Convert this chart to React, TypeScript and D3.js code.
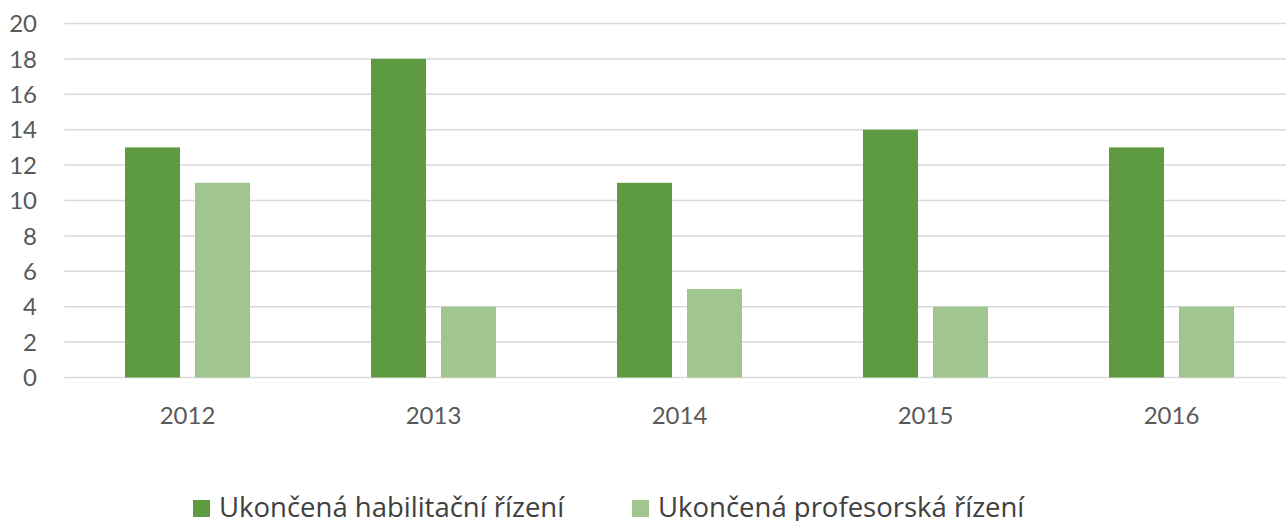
import React from "react";
import * as d3 from "d3";

const width = 1286;
const height = 521;
const margin = { left: 64.5, right: -8.5, top: 23.5, bottom: 143.5 }; // plot runs past the right edge

const years = ["2012", "2013", "2014", "2015", "2016"];
const habilitace = [13, 18, 11, 14, 13];
const profesor = [11, 4, 5, 4, 4];
const seriesNames = ["Ukončená habilitační řízení", "Ukončená profesorská řízení"];
const seriesColors = ["#5e9a3f", "#a1c58e"];
const yTicks = [0, 2, 4, 6, 8, 10, 12, 14, 16, 18, 20];

const axisFont = "Lato, sans-serif";
const legendFont = "'Open Sans', sans-serif";

const App = () => {
  const x = d3
    .scaleBand()
    .domain(years)
    .range([margin.left, width - margin.right])
    .paddingInner(0)
    .paddingOuter(0);
  const y = d3
    .scaleLinear()
    .domain([0, 20])
    .range([height - margin.bottom, margin.top]);
  const groupPad = 60.5;
  const inner = d3
    .scaleBand()
    .domain(["0", "1"])
    .range([groupPad, x.bandwidth() - groupPad])
    .paddingInner(15 / 70);

  const series = [habilitace, profesor];

  return (
    <svg width={width} height={height} style={{ position: "absolute", left: 0, top: 0 }}>
      <g>
        {yTicks.map((t) => (
          <g key={t}>
            <line
              x1={margin.left}
              x2={width}
              y1={y(t)}
              y2={y(t)}
              stroke="#d9d9d9"
              strokeWidth={1.5}
            />
            <text
              x={37}
              y={y(t)}
              dy="0.36em"
              textAnchor="end"
              fontFamily={axisFont}
              fontSize={24}
              fill="#595959"
            >
              {t}
            </text>
          </g>
        ))}
      </g>
      {series.map((vals, si) =>
        vals.map((v, i) => (
          <rect
            key={`${si}-${i}`}
            x={(x(years[i]) ?? 0) + (inner(String(si)) ?? 0)}
            y={y(v)}
            width={inner.bandwidth()}
            height={y(0) - y(v)}
            fill={seriesColors[si]}
          />
        ))
      )}
      {years.map((yr) => (
        <text
          key={yr}
          x={(x(yr) ?? 0) + x.bandwidth() / 2}
          y={424}
          textAnchor="middle"
          fontFamily={axisFont}
          fontSize={24}
          fill="#595959"
        >
          {yr}
        </text>
      ))}
      {seriesNames.map((name, i) => {
        const lx = [193, 632][i];
        return (
          <g key={name}>
            <rect x={lx} y={500} width={17} height={17} fill={seriesColors[i]} />
            <text
              x={lx + 26}
              y={517}
              fontFamily={legendFont}
              fontSize={27.5}
              fill="#404040"
            >
              {name}
            </text>
          </g>
        );
      })}
    </svg>
  );
};

export default App;
